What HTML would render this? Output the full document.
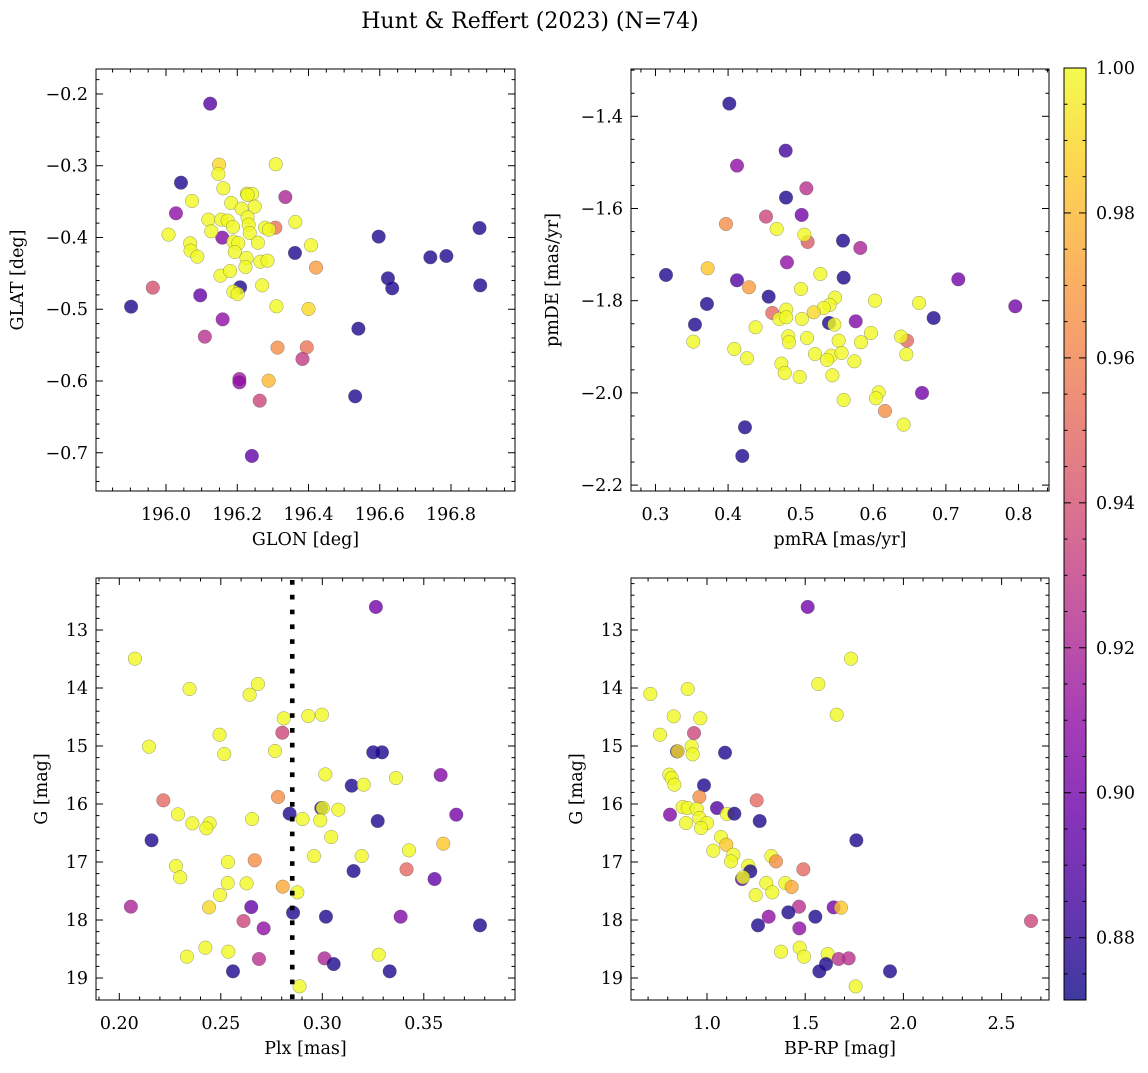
<!DOCTYPE html>
<html><head><meta charset="utf-8">
<style>
html,body{margin:0;padding:0;background:#fff;}
svg text{font-family:"DejaVu Serif","Liberation Serif",serif;fill:#000;}
</style></head>
<body>
<svg id="fig" width="1148" height="1068" viewBox="0 0 1148 1068" xmlns="http://www.w3.org/2000/svg">
<defs>
<linearGradient id="plasma" x1="0" y1="1" x2="0" y2="0">
<stop offset="0" stop-color="#0d0887"/><stop offset="0.1" stop-color="#41049d"/><stop offset="0.2" stop-color="#6a00a8"/><stop offset="0.3" stop-color="#8f0da4"/><stop offset="0.4" stop-color="#b12a90"/><stop offset="0.5" stop-color="#cc4778"/><stop offset="0.6" stop-color="#e16462"/><stop offset="0.7" stop-color="#f2844b"/><stop offset="0.8" stop-color="#fca636"/><stop offset="0.9" stop-color="#fcce25"/><stop offset="1" stop-color="#f0f921"/>
</linearGradient>
</defs>
<text x="530" y="28" font-size="22" text-anchor="middle">Hunt &amp; Reffert (2023) (N=74)</text>
</svg>
<script>
// ---- Panel 1: GLON / GLAT ----
const p1_glon = [196.124,196.042,196.335,196.028,195.902,195.963,196.096,196.158,196.362,196.208,196.159,196.109,196.206,196.206,196.263,196.241,196.307,196.421,196.313,196.395,196.383,196.288,196.597,196.880,196.742,196.787,196.623,196.635,196.882,196.540,196.531,
196.149,196.147,196.308,196.161,196.073,196.227,196.242,196.229,196.183,196.249,196.212,196.119,196.155,196.173,196.229,196.232,196.188,196.127,196.278,196.289,196.235,196.363,196.007,196.068,196.069,196.088,196.189,196.203,196.193,196.258,196.407,196.226,196.223,196.265,196.285,196.153,196.180,196.270,196.189,196.201,196.310,196.400];
const p1_glat = [-0.2135,-0.3236,-0.3436,-0.3663,-0.4964,-0.4699,-0.4806,-0.4002,-0.4216,-0.4695,-0.5141,-0.5382,-0.5972,-0.6019,-0.6274,-0.7045,-0.3863,-0.4420,-0.5535,-0.5531,-0.5693,-0.5995,-0.3988,-0.3868,-0.4276,-0.4258,-0.4569,-0.4708,-0.4667,-0.5271,-0.6214,
-0.2985,-0.3115,-0.2980,-0.3315,-0.3491,-0.3389,-0.3394,-0.3408,-0.3519,-0.3570,-0.3598,-0.3751,-0.3751,-0.3765,-0.3719,-0.3821,-0.3854,-0.3914,-0.3863,-0.3891,-0.3937,-0.3784,-0.3960,-0.4081,-0.4183,-0.4267,-0.4058,-0.4081,-0.4202,-0.4072,-0.4109,-0.4286,-0.4411,-0.4337,-0.4323,-0.4532,-0.4467,-0.4667,-0.4755,-0.4787,-0.4959,-0.4996];
const p1_prob = [0.89,0.875,0.92,0.91,0.875,0.94,0.895,0.905,0.875,0.875,0.91,0.925,0.915,0.91,0.935,0.895,0.955,0.97,0.965,0.955,0.93,0.98,0.875,0.875,0.875,0.875,0.875,0.875,0.875,0.875,0.875,
0.99,1,1,1,1,1,1,1,1,1,1,1,1,1,1,1,1,1,1,1,1,1,1,1,1,1,1,1,1,1,1,1,1,1,1,1,1,1,1,1,1,0.99];

// ---- Panel 2: pmRA / pmDE ----
const p2_pmra = [0.4017,0.4793,0.4123,0.4798,0.5078,0.4522,0.3971,0.5013,0.5096,0.5583,0.5821,0.4811,0.3145,0.3719,0.4123,0.4288,0.4559,0.5592,0.7171,0.7956,0.6831,0.3709,0.3544,0.4609,0.5390,0.5758,0.6464,0.6671,0.6161,0.4233,0.4196,
0.4669,0.5050,0.5271,0.5004,0.5473,0.5399,0.5317,0.5179,0.6023,0.6630,0.4801,0.4705,0.4801,0.5017,0.4379,0.5464,0.3521,0.4086,0.4260,0.4830,0.4839,0.5087,0.5523,0.5830,0.5968,0.6382,0.6455,0.5197,0.5418,0.5363,0.5564,0.5739,0.4734,0.4780,0.4986,0.5436,0.6074,0.6037,0.5592,0.6418];
const p2_pmde = [-1.3725,-1.4745,-1.5070,-1.5764,-1.5562,-1.6176,-1.6336,-1.6140,-1.6726,-1.6697,-1.6856,-1.7167,-1.7442,-1.7297,-1.7557,-1.7709,-1.7912,-1.7500,-1.7536,-1.8121,-1.8375,-1.8071,-1.8519,-1.8266,-1.8483,-1.8447,-1.8866,-2.0001,-2.0392,-2.0746,-2.1368,
-1.6444,-1.6567,-1.7420,-1.7745,-1.7933,-1.8092,-1.8158,-1.8252,-1.7999,-1.8049,-1.8194,-1.8396,-1.8360,-1.8396,-1.8577,-1.8519,-1.8888,-1.9047,-1.9249,-1.8772,-1.8902,-1.8808,-1.8866,-1.8902,-1.8700,-1.8779,-1.9163,-1.9156,-1.9192,-1.9286,-1.9134,-1.9315,-1.9365,-1.9568,-1.9654,-1.9618,-1.9987,-2.0117,-2.0153,-2.0688];
const p2_prob = [0.875,0.885,0.91,0.875,0.925,0.935,0.965,0.9,0.945,0.875,0.92,0.91,0.875,0.985,0.89,0.97,0.875,0.875,0.9,0.9,0.875,0.875,0.875,0.95,0.875,0.905,0.95,0.9,0.965,0.875,0.875,
1,1,1,1,1,1,1,0.99,1,1,1,1,1,1,1,1,1,1,1,1,1,1,1,1,1,1,1,1,1,1,1,1,1,1,1,1,1,1,1,1];

// ---- Panel 3: Plx / G ----
const p3_plx = [0.3264,0.2077,0.2346,0.2642,0.2683,0.2810,0.2931,0.2998,0.2494,0.2803,0.2146,0.2517,0.2767,0.3251,0.3294,0.3015,0.3363,0.3583,0.3145,0.3204,0.2217,0.2782,0.2995,0.3002,0.3079,0.2289,0.2839,0.3660,0.2360,0.2445,0.2429,0.2654,0.2903,0.2990,0.3273,0.2159,0.3044,0.3596,0.3427,0.2959,0.3194,0.2279,0.2300,0.2535,0.2667,0.3154,0.3415,0.3553,0.2534,0.2627,0.2805,0.2877,0.2496,0.2057,0.2442,0.2650,0.2856,0.3018,0.3386,0.2612,0.2711,0.3777,0.2333,0.2424,0.2537,0.2688,0.3011,0.3056,0.3278,0.2560,0.3332,0.2888];
const p3_g = [12.603,13.494,14.017,14.115,13.931,14.523,14.483,14.460,14.805,14.770,15.011,15.138,15.086,15.109,15.109,15.489,15.552,15.500,15.684,15.667,15.937,15.879,16.069,16.069,16.098,16.178,16.167,16.184,16.333,16.333,16.420,16.259,16.259,16.282,16.293,16.626,16.569,16.684,16.799,16.897,16.897,17.069,17.264,17.000,16.971,17.155,17.126,17.293,17.362,17.368,17.425,17.523,17.569,17.770,17.782,17.776,17.874,17.943,17.943,18.017,18.144,18.092,18.632,18.477,18.546,18.672,18.661,18.759,18.598,18.885,18.885,19.144];
const p3_prob = [0.9,1,1,1,1,1,1,1,1,0.935,1,1,1,0.875,0.875,1,1,0.905,0.875,1,0.95,0.965,0.875,1,1,1,0.875,0.9,1,1,1,1,1,1,0.875,0.875,1,0.985,1,1,1,1,1,1,0.965,0.875,0.95,0.895,1,1,0.975,1,1,0.92,0.99,0.895,0.875,0.875,0.905,0.935,0.91,0.875,1,1,1,0.925,0.92,0.875,1,0.875,0.875,1];
const plxLine = [0.2852];

// ---- Panel 4: BP-RP / G ----
const p4_bprp = [1.5126,1.7332,1.5669,1.6602,0.7115,0.9016,0.8303,0.9661,0.7607,0.9338,0.8473,0.8506,0.9219,0.9270,1.0917,0.8082,0.8201,0.8337,0.9847,0.9610,1.2529,0.8761,0.9016,0.9474,1.0509,0.8116,1.1018,1.1392,0.8931,0.9610,1.0000,0.9695,1.2682,1.7604,1.0713,1.0984,1.0322,1.1341,1.1222,1.3276,1.3513,1.2105,1.2206,1.4905,1.1782,1.1833,1.3021,1.3988,1.4311,1.3327,1.2478,1.4684,1.6449,1.6823,1.4141,1.5516,1.3140,2.6497,1.4701,1.2597,1.3768,1.4718,1.4939,1.6144,1.6704,1.7213,1.6059,1.5720,1.9318,1.7570];
const p4_g = [12.603,13.494,13.931,14.460,14.103,14.017,14.489,14.523,14.805,14.776,15.092,15.092,15.006,15.144,15.115,15.494,15.552,15.667,15.678,15.879,15.937,16.052,16.069,16.086,16.069,16.184,16.172,16.167,16.328,16.241,16.328,16.414,16.293,16.626,16.569,16.701,16.805,16.874,16.989,16.897,16.989,17.063,17.161,17.126,17.293,17.264,17.362,17.362,17.431,17.523,17.569,17.770,17.782,17.787,17.868,17.943,17.943,18.017,18.144,18.092,18.546,18.477,18.632,18.586,18.672,18.661,18.759,18.885,18.885,19.144];
const p4_prob = [0.9,1,1,1,1,1,1,1,1,0.935,0.875,0.99,1,1,0.875,1,1,1,0.875,0.965,0.95,1,1,1,0.89,0.905,1,0.875,1,1,1,1,0.875,0.875,1,0.985,1,1,1,1,0.965,1,0.875,0.95,0.89,1,1,1,0.975,1,1,0.925,0.9,0.985,0.875,0.875,0.91,0.935,0.91,0.875,1,1,1,1,0.925,0.925,0.875,0.875,0.875,1];

// ---- Colorbar ----
const cbTicks = [0.88,0.90,0.92,0.94,0.96,0.98,1.00];
const cbMin = 0.8714, cbMax = 1.0;

const NS = "http://www.w3.org/2000/svg";
const svg = document.getElementById('fig');
const FS = 17.5;
function mk(tag, attrs, parent){
  const e = document.createElementNS(NS, tag);
  for (const k in attrs) e.setAttribute(k, attrs[k]);
  (parent||svg).appendChild(e);
  return e;
}
const stops = [[0,[13,8,135]],[0.1,[65,4,157]],[0.2,[106,0,168]],[0.3,[143,13,164]],[0.4,[177,42,144]],[0.5,[204,71,120]],[0.6,[225,100,98]],[0.7,[242,132,75]],[0.8,[252,166,54]],[0.9,[252,206,37]],[1,[240,249,33]]];
function plasma(v){
  let t = (v-cbMin)/(cbMax-cbMin); t = Math.max(0,Math.min(1,t));
  for (let i=0;i<stops.length-1;i++){
    const a=stops[i], b=stops[i+1];
    if (t<=b[0]){
      const f=(t-a[0])/(b[0]-a[0]);
      const c=a[1].map((x,j)=>Math.round(x+(b[1][j]-x)*f));
      return 'rgb('+c.join(',')+')';
    }
  }
  return 'rgb(240,249,33)';
}
function fmt(v, dec){
  const s = Math.abs(v).toFixed(dec);
  return (v < -1e-9 ? '\u2212' : '') + s;
}

function panel(cfg){
  const {name,L,T,W,H,xmin,xmax,ymin,ymax,yInv,xMaj,xMin,yMaj,yMin,xDec,yDec,xFirst,xLast,yFirst,yLast,xlabel,ylabel,ylabX} = cfg;
  const g = mk('g',{});
  
  
  const sx = v => L + (v - xmin)/(xmax - xmin)*W;
  const sy = yInv ? (v => T + (v - ymin)/(ymax - ymin)*H) : (v => T + H - (v - ymin)/(ymax - ymin)*H);
  const clip = mk('clipPath',{id:'clip-'+name}, g);
  mk('rect',{x:L,y:T,width:W,height:H}, clip);
  const marks = mk('g',{'clip-path':'url(#clip-'+name+')'}, g);
  
  
  const xs = cfg.xs, ys = cfg.ys, ps = cfg.ps;
  for (let i=0;i<xs.length;i++){
    const c = mk('circle',{cx:sx(xs[i]).toFixed(2), cy:sy(ys[i]).toFixed(2), r:6.8, fill:plasma(ps[i]), 'fill-opacity':0.8, stroke:'#555', 'stroke-opacity':0.6, 'stroke-width':0.5}, marks);
    
    
  }
  if (cfg.vline){
    for (const v of cfg.vline){
      const ln = mk('line',{x1:sx(v),x2:sx(v),y1:T+2,y2:T+H,stroke:'#000','stroke-width':4.6,'stroke-dasharray':'4.7 10.1'}, g);
      
      
    }
  }
  const fr = mk('rect',{x:L,y:T,width:W,height:H,fill:'none',stroke:'#000','stroke-width':1}, g);
  
  
  const nX = Math.round((xLast - xFirst)/xMaj);
  const lo = Math.ceil((xmin - xFirst)/xMin - 1e-6), hi = Math.floor((xmax - xFirst)/xMin + 1e-6);
  for (let k=lo;k<=hi;k++){
    const v = xFirst + k*xMin, x = sx(v);
    const isMaj = Math.abs(((v - xFirst)/xMaj) - Math.round((v - xFirst)/xMaj)) < 1e-6;
    const len = isMaj ? 7 : 3.5;
    mk('line',{x1:x,x2:x,y1:T+H,y2:T+H-len,stroke:'#000','stroke-width':1}, g);
    mk('line',{x1:x,x2:x,y1:T,y2:T+len,stroke:'#000','stroke-width':1}, g);
  }
  for (let k=0;k<=nX;k++){
    const v = xFirst + k*xMaj;
    const t = mk('text',{x:sx(v),y:T+H+29,'font-size':FS,'text-anchor':'middle'}, g);
    
    
    t.textContent = fmt(v, xDec);
  }
  const nY = Math.round((yLast - yFirst)/yMaj);
  const ylo = Math.ceil((Math.min(ymin,ymax) - yFirst)/yMin - 1e-6), yhi = Math.floor((Math.max(ymin,ymax) - yFirst)/yMin + 1e-6);
  for (let k=ylo;k<=yhi;k++){
    const v = yFirst + k*yMin, y = sy(v);
    const isMaj = Math.abs(((v - yFirst)/yMaj) - Math.round((v - yFirst)/yMaj)) < 1e-6;
    const len = isMaj ? 7 : 3.5;
    mk('line',{x1:L,x2:L+len,y1:y,y2:y,stroke:'#000','stroke-width':1}, g);
    mk('line',{x1:L+W,x2:L+W-len,y1:y,y2:y,stroke:'#000','stroke-width':1}, g);
  }
  for (let k=0;k<=nY;k++){
    const v = yFirst + k*yMaj;
    const t = mk('text',{x:L-8,y:sy(v)+6,'font-size':FS,'text-anchor':'end'}, g);
    
    
    t.textContent = fmt(v, yDec);
  }
  const xl = mk('text',{x:L+W/2,y:T+H+54,'font-size':FS,'text-anchor':'middle'}, g);
  
  
  xl.textContent = xlabel;
  const cy = T+H/2;
  const yl = mk('text',{x:ylabX,y:cy,'font-size':FS,'text-anchor':'middle',transform:'rotate(-90 '+ylabX+' '+cy+')'}, g);
  
  
  yl.textContent = ylabel;
}

panel({name:'glon-glat-panel',L:96,T:69,W:419,H:422,xmin:195.8035,xmax:196.9796,ymin:-0.7533,ymax:-0.1652,yInv:false,
  xMaj:0.2,xMin:0.05,xFirst:196.0,xLast:196.8,xDec:1,yMaj:0.1,yMin:0.02,yFirst:-0.7,yLast:-0.2,yDec:1,
  xs:p1_glon,ys:p1_glat,ps:p1_prob,xlabel:'GLON [deg]',ylabel:'GLAT [deg]',ylabX:23});
panel({name:'pm-panel',L:631,T:69,W:418,H:422,xmin:0.2663,xmax:0.8420,ymin:-2.2128,ymax:-1.2974,yInv:false,
  xMaj:0.1,xMin:0.02,xFirst:0.3,xLast:0.8,xDec:1,yMaj:0.2,yMin:0.05,yFirst:-2.2,yLast:-1.4,yDec:1,
  xs:p2_pmra,ys:p2_pmde,ps:p2_prob,xlabel:'pmRA [mas/yr]',ylabel:'pmDE [mas/yr]',ylabX:558});
panel({name:'plx-g-panel',L:96,T:578,W:419,H:422,xmin:0.18852,xmax:0.39493,ymin:12.1034,ymax:19.379,yInv:true,
  xMaj:0.05,xMin:0.01,xFirst:0.2,xLast:0.35,xDec:2,yMaj:1,yMin:0.2,yFirst:13,yLast:19,yDec:0,
  xs:p3_plx,ys:p3_g,ps:p3_prob,vline:plxLine,xlabel:'Plx [mas]',ylabel:'G [mag]',ylabX:47});
panel({name:'cmd-panel',L:631,T:578,W:418,H:422,xmin:0.6130,xmax:2.7413,ymin:12.1034,ymax:19.379,yInv:true,
  xMaj:0.5,xMin:0.1,xFirst:1.0,xLast:2.5,xDec:1,yMaj:1,yMin:0.2,yFirst:13,yLast:19,yDec:0,
  xs:p4_bprp,ys:p4_g,ps:p4_prob,xlabel:'BP-RP [mag]',ylabel:'G [mag]',ylabX:582});

(function(){
  const L=1064,T=68,W=22,H=932;
  const g = mk('g',{});
  
  
  mk('rect',{x:L,y:T,width:W,height:H,fill:'url(#plasma)','fill-opacity':0.8}, g);
  mk('rect',{x:L,y:T,width:W,height:H,fill:'none',stroke:'#000','stroke-width':1}, g);
  const sy = v => T + H - (v-cbMin)/(cbMax-cbMin)*H;
  for (let v=0.875; v<=1.0001; v+=0.005){
    const y = sy(v);
    const isMaj = Math.abs(v*50 - Math.round(v*50)) < 1e-6;
    mk('line',{x1:L+W,x2:L+W-(isMaj?7:3.5),y1:y,y2:y,stroke:'#000','stroke-width':1}, g);
    mk('line',{x1:L,x2:L+(isMaj?7:3.5),y1:y,y2:y,stroke:'#000','stroke-width':1}, g);
  }
  for (const v of cbTicks){
    const t = mk('text',{x:L+W+10,y:sy(v)+6,'font-size':FS}, g);
    
    
    t.textContent = v.toFixed(2);
  }
})();
</script>
</body></html>
